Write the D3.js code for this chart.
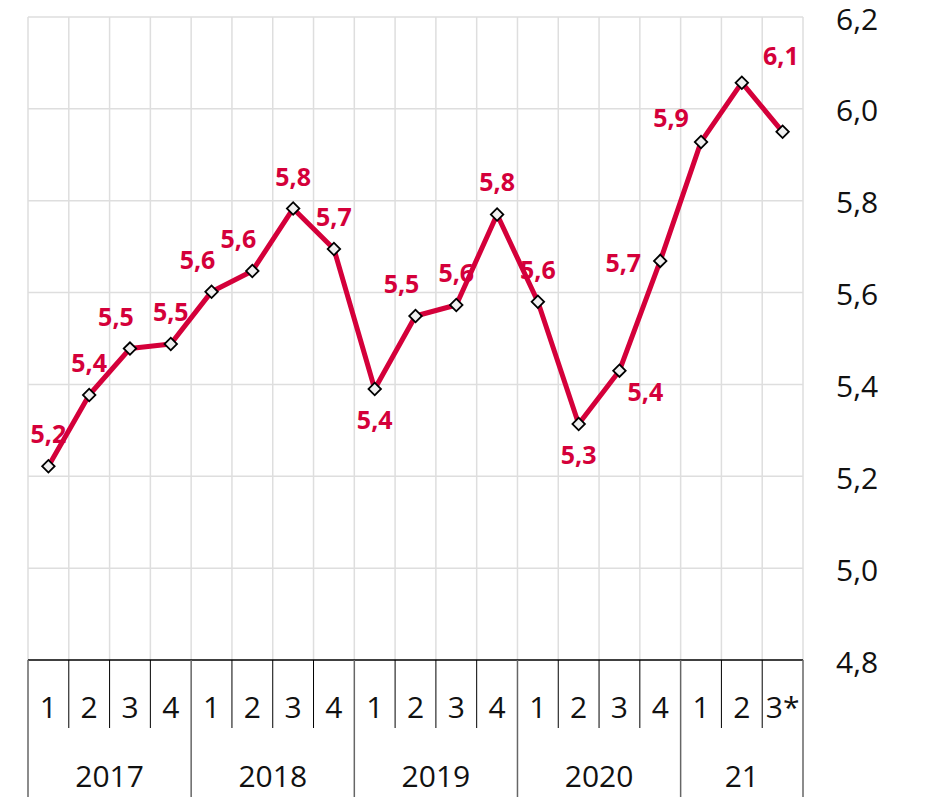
<!DOCTYPE html>
<html>
<head>
<meta charset="utf-8">
<script src="https://cdn.jsdelivr.net/npm/d3@7"></script>
<style>
  html, body { margin: 0; padding: 0; background: #fff; }
  svg { display: block; font-family: "Open Sans", "Noto Sans", sans-serif; }
</style>
</head>
<body>
<div id="chart"></div>
<script>
// quarters and years along the bottom
const quarters = ["1","2","3","4","1","2","3","4","1","2","3","4","1","2","3","4","1","2","3*"];
const years = ["2017", "2018", "2019", "2020", "21"];
const yearSpans = [4, 4, 4, 4, 3];

// series values
const values = [5.222, 5.377, 5.478, 5.488, 5.602, 5.647, 5.783, 5.695,
                5.390, 5.549, 5.573, 5.770, 5.580, 5.314, 5.430, 5.669,
                5.928, 6.057, 5.950];

// where each value label sits relative to its point ("" = no label)
const labelPlace = ["t","t","tl","t","tl","tl","t","t",
                    "b","tl","t","t","t","b","br","l",
                    "ftl","tr",""];

const yTicks = [4.8, 5.0, 5.2, 5.4, 5.6, 5.8, 6.0, 6.2];

const W = 925, H = 797;
const plotLeft = 28, plotRight = 803, plotTop = 17, axisY = 660;
const red = "#d4003a";

const svg = d3.select("#chart").append("svg")
  .attr("width", W)
  .attr("height", H);

const x = d3.scaleBand()
  .domain(d3.range(values.length))
  .range([plotLeft, plotRight])
  .padding(0);

const y = d3.scaleLinear()
  .domain([4.8, 6.2])
  .range([axisY, plotTop]);

const fmt = d3.formatLocale({decimal: ",", thousands: ".", grouping: [3], currency: ["", ""]});
const f1 = fmt.format(".1f");

// grid
const grid = svg.append("g");
grid.selectAll(".vg")
  .data(d3.range(values.length + 1))
  .enter().append("line")
  .attr("x1", i => plotLeft + i * x.step())
  .attr("x2", i => plotLeft + i * x.step())
  .attr("y1", plotTop)
  .attr("y2", axisY)
  .attr("stroke", "#dedede")
  .attr("stroke-width", 1.5);

grid.selectAll(".hg")
  .data(yTicks.filter(t => t > 4.8))
  .enter().append("line")
  .attr("x1", plotLeft)
  .attr("x2", plotRight)
  .attr("y1", d => y(d))
  .attr("y2", d => y(d))
  .attr("stroke", "#dedede")
  .attr("stroke-width", 1.5);

// right y axis labels
svg.append("g")
  .selectAll("text")
  .data(yTicks)
  .enter().append("text")
  .attr("x", 836)
  .attr("y", d => y(d) + 1)
  .attr("dominant-baseline", "central")
  .attr("font-size", 30)
  .attr("fill", "#111")
  .text(d => f1(d));

// bottom table axis
const axis = svg.append("g");
axis.append("line")
  .attr("x1", plotLeft).attr("x2", plotRight)
  .attr("y1", axisY).attr("y2", axisY)
  .attr("stroke", "#000").attr("stroke-width", 1.5);

// year boundaries
let starts = [0];
yearSpans.forEach((s, i) => starts.push(starts[i] + s));
axis.selectAll(".ysep")
  .data(starts)
  .enter().append("line")
  .attr("x1", i => plotLeft + i * x.step())
  .attr("x2", i => plotLeft + i * x.step())
  .attr("y1", axisY)
  .attr("y2", H)
  .attr("stroke", "#666")
  .attr("stroke-width", 1.5);

// quarter separators
axis.selectAll(".qsep")
  .data(d3.range(1, values.length).filter(i => !starts.includes(i)))
  .enter().append("line")
  .attr("x1", i => plotLeft + i * x.step())
  .attr("x2", i => plotLeft + i * x.step())
  .attr("y1", axisY)
  .attr("y2", 728)
  .attr("stroke", "#000")
  .attr("stroke-width", 1);

axis.selectAll(".ql")
  .data(quarters)
  .enter().append("text")
  .attr("x", (d, i) => x(i) + x.bandwidth() / 2)
  .attr("y", 718)
  .attr("text-anchor", "middle")
  .attr("font-size", 30)
  .attr("fill", "#111")
  .text(d => d);

axis.selectAll(".yl")
  .data(years)
  .enter().append("text")
  .attr("x", (d, i) => plotLeft + (starts[i] + yearSpans[i] / 2) * x.step())
  .attr("y", 787)
  .attr("text-anchor", "middle")
  .attr("font-size", 30)
  .attr("fill", "#111")
  .text(d => d);

// line
const line = d3.line()
  .x((d, i) => x(i) + x.bandwidth() / 2)
  .y(d => y(d));

svg.append("path")
  .datum(values)
  .attr("d", line)
  .attr("fill", "none")
  .attr("stroke", red)
  .attr("stroke-width", 5)
  .attr("stroke-linejoin", "round");

// markers
svg.selectAll(".pt")
  .data(values)
  .enter().append("path")
  .attr("d", d3.symbol().type(d3.symbolSquare).size(78))
  .attr("transform", (d, i) => `translate(${x(i) + x.bandwidth() / 2},${y(d)}) rotate(45)`)
  .attr("fill", "#f0f0f0")
  .attr("stroke", "#000")
  .attr("stroke-width", 1.8);

// value labels
const offsets = {
  t: [0, -33], tl: [-14, -33], b: [0, 30], br: [26, 20],
  l: [-37, 1], ftl: [-30, -25], tr: [39, -28]
};
svg.selectAll(".vl")
  .data(values.map((v, i) => ({v, i, p: labelPlace[i]})).filter(d => d.p))
  .enter().append("text")
  .attr("x", d => x(d.i) + x.bandwidth() / 2 + offsets[d.p][0])
  .attr("y", d => y(d.v) + offsets[d.p][1])
  .attr("text-anchor", "middle")
  .attr("dominant-baseline", "central")
  .attr("font-size", 25)
  .attr("font-weight", "bold")
  .attr("fill", red)
  .text(d => f1(d.v));
</script>
</body>
</html>
